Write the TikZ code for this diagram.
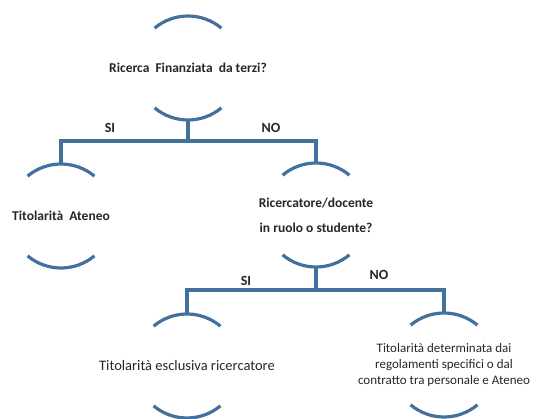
\documentclass[tikz,border=0pt]{standalone}
\usepackage{fontspec}
\setmainfont{Carlito}
\definecolor{treeblue}{HTML}{41719C}
\definecolor{treetext}{HTML}{262626}

\begin{document}
\begin{tikzpicture}[x=1pt,y=1pt,
    link/.style={treeblue, line width=3.2pt},
    bubble/.style={treeblue, line width=3.2pt},
    ask/.style={font=\bfseries\fontsize{13.5}{25}\selectfont, text=treetext, align=center},
    leaf/.style={font=\fontsize{13}{16}\selectfont, text=treetext, align=center},
    answer/.style={font=\bfseries\fontsize{14}{14}\selectfont, text=treetext}]
                \useasboundingbox (0,0) rectangle (541,418);

                % question and answer texts
                \node[ask] (q) at (188,350) {Ricerca\ \ Finanziata\ \ da terzi?};
                \node[ask] (l) at (61,202) {Titolarità\ \ Ateneo};
                \node[ask] (r) at (316,203) {Ricercatore/docente\\in ruolo o studente?};
                \node[leaf, font=\fontsize{14.5}{16}\selectfont] (bl) at (187,52) {Titolarità esclusiva ricercatore};
                \node[leaf] (br) at (444,53) {Titolarità determinata dai\\regolamenti specifici o dal\\contratto tra personale e Ateneo};

                % arcs above and below each text
                \foreach \n in {q,l,r,bl,br} {
                    \draw[bubble] ([shift={(130:52)}]\n.center) arc[start angle=130, end angle=50, radius=52];
                    \draw[bubble] ([shift={(230:52)}]\n.center) arc[start angle=230, end angle=310, radius=52];
                    \coordinate (\n-top) at ([yshift=52pt]\n.center);
                    \coordinate (\n-bot) at ([yshift=-52pt]\n.center);
                }

                % first split
                \coordinate (bar1) at (188,277);
                \draw[link] (q-bot) -- (bar1);
                \draw[link] (l-top) |- (bar1) -| (r-top);
                \node[answer] (si1) at (110,290) {SI};
                \node[answer] (no1) at (271,290) {NO};

                % second split
                \coordinate (bar2) at (316,128);
                \draw[link] (r-bot) -- (bar2);
                \draw[link] (bl-top) |- (bar2) -| (br-top);
                \node[answer] (si2) at (246,137) {SI};
                \node[answer] (no2) at (379,143) {NO};
            \end{tikzpicture}
\end{document}
